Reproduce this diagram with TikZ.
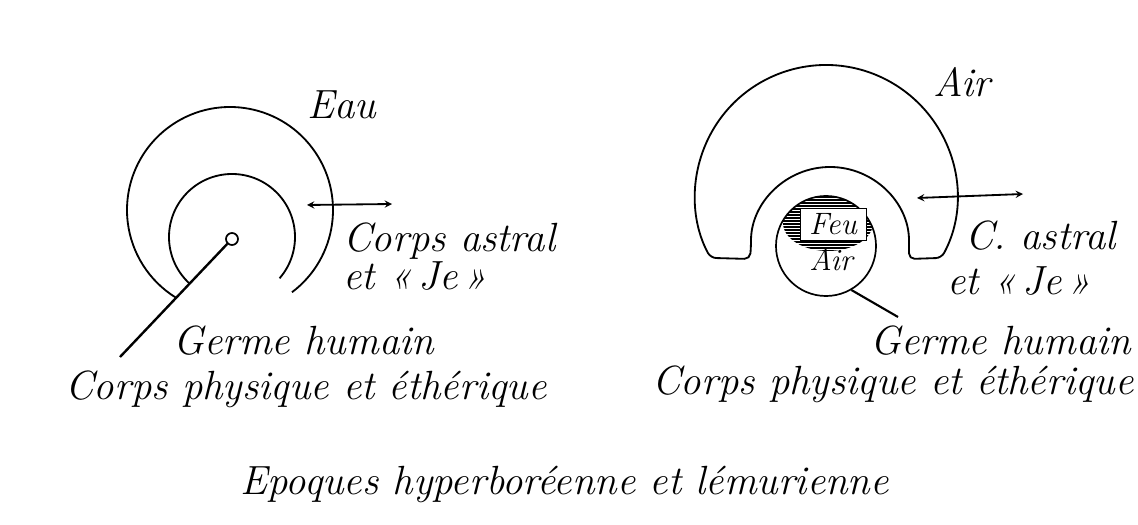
\documentclass[tikz,border=0pt]{standalone}
\usetikzlibrary{positioning}

\tikzset{
  lbl/.style={font=\fontsize{29}{34}\selectfont\itshape, inner sep=0pt, anchor=base west},
  small/.style={font=\fontsize{22}{26}\selectfont\itshape, inner sep=0pt},
  body/.style={line width=1.3pt},
  germ/.style={circle, draw, line width=1.2pt, inner sep=0pt},
}

\begin{document}
\begin{tikzpicture}[x=0.025cm, y=0.025cm, >=stealth]
    \useasboundingbox (0,0) rectangle (1138,525);

    % left: hyperborean epoch
    \begin{scope}
        \draw[body] (230,315) ++(-53:103) arc[start angle=-53, end angle=238, radius=103];
        \draw[body] (232,288) ++(-41:63) arc[start angle=-41, end angle=228, radius=63];
        \node[germ, minimum size=0.3cm] (lgerm) at (232,286) {};
        \coordinate (lend) at (120,168);
        \draw[line width=1.7pt] (lgerm.226) -- (lend);

        \coordinate (la) at (307,320);
        \coordinate (lb) at (392,321);
        \draw[<->, line width=1.3pt] (la) -- (lb);

        \node[lbl] (leau) at (307,406) {Eau};
        \node[lbl] (lastral) at (343,273) {Corps astral};
        \node[lbl] (lje) at (343,235) {et «\,Je\,»};
        \node[lbl] (lgermlbl) at (173,170) {Germe humain};
        \node[lbl] (lphys) at (65,125) {Corps physique et éthérique};
    \end{scope}

    % right: lemurian epoch
    \begin{scope}
        \draw[body, rounded corners=4] (826,329) ++(-28.2:131)
            arc[start angle=-28.2, end angle=208.2, radius=131]
            -- (750,266) -- (751,279)
            arc[start angle=180, end angle=0, radius=79]
            -- (909,266) -- cycle;

        \begin{scope}
            \clip (826,279) circle (50);
            \clip (828,302) ellipse [x radius=45, y radius=28];
            \foreach \y in {274,277,...,332}
                \draw[line width=1.3pt] (770,\y) -- (890,\y);
        \end{scope}
        \node[germ, minimum size=2.5cm] (rgerm) at (826,279) {};
        \node[small, draw, fill=white, line width=0.6pt, inner sep=2pt,
              minimum width=1.65cm, minimum height=0.8cm] (feu) at (833,301) {Feu};
        \node[small, anchor=base] (rair) at (831,254) {Air};

        \coordinate (rend) at (898,208);
        \draw[line width=1.5pt] (rgerm.-60) -- (rend);

        \coordinate (ra) at (917,327);
        \coordinate (rb) at (1023,331);
        \draw[<->, line width=1.3pt] (ra) -- (rb);

        \node[lbl] (rairlbl) at (933,428) {Air};
        \node[lbl] (rastral) at (965,275) {C. astral};
        \node[lbl] (rje) at (947,230) {et «\,Je\,»};
        \node[lbl] (rgermlbl) at (870,170) {Germe humain};
        \node[lbl] (rphys) at (652,130) {Corps physique et éthérique};
    \end{scope}

    \node[lbl] (title) at (240,30) {Epoques hyperboréenne et lémurienne};
\end{tikzpicture}
\end{document}
